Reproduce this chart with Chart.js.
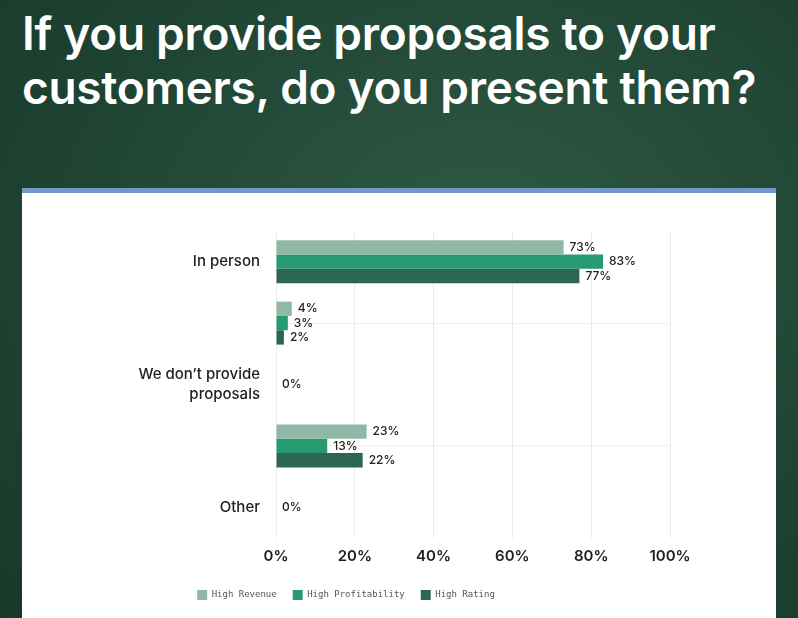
<!DOCTYPE html>
<html>
<head>
<meta charset="utf-8">
<script src="https://cdn.jsdelivr.net/npm/chart.js@4"></script>
<style>
  body { margin: 0; width: 798px; height: 618px; overflow: hidden;
    background: radial-gradient(ellipse at 60% 40%, #2f5a45 0%, #1f4433 60%, #17392a 100%);
    font-family: Inter, "Noto Sans", sans-serif; position: relative; }
  h1 { position: absolute; left: 22px; top: 6px; margin: 0; color: #fff;
    font-size: 46px; line-height: 54px; font-weight: 600; letter-spacing: -0.3px; }
  #panel { position: absolute; left: 22px; top: 188px; width: 754px; height: 430px;
    background: #fff; border-top: 5px solid #7198c9; }
  #wrap { position: absolute; left: 0; top: 0; width: 754px; height: 425px; }
</style>
</head>
<body>
<h1>If you provide proposals to your<br>customers, do you present them?</h1>
<div id="panel"><div id="wrap"><canvas id="grafico"></canvas></div></div>
<script>
const categorias = [
  'In person',
  ['Over Zoom/Google', 'Meet/etc.'],
  ['We don\u2019t provide', 'proposals'],
  ['We send proposals', 'without presenting', 'them'],
  'Other'
];
const highRevenue = [73, 4, 0, 23, 0];
const highProfitability = [83, 3, 0, 13, 0];
const highRating = [77, 2, 0, 22, 0];
const ticksX = [0, 20, 40, 60, 80, 100];

const rotulos = {
  id: 'rotulos',
  afterDatasetsDraw(chart) {
    const ctx = chart.ctx;
    ctx.save();
    ctx.font = '500 12px Inter, sans-serif';
    ctx.fillStyle = '#222';
    ctx.textBaseline = 'middle';
    chart.data.datasets.forEach((ds, i) => {
      const meta = chart.getDatasetMeta(i);
      meta.data.forEach((bar, j) => {
        const v = ds.data[j];
        if (v === 0 && i !== 1) return;
        ctx.fillText(v + '%', bar.x + 6, bar.y);
      });
    });
    ctx.restore();
  }
};

new Chart(document.getElementById('grafico').getContext('2d'), {
  type: 'bar',
  data: {
    labels: categorias,
    datasets: [
      { label: 'High Revenue', data: highRevenue, backgroundColor: '#8fb9a5' },
      { label: 'High Profitability', data: highProfitability, backgroundColor: '#279a72' },
      { label: 'High Rating', data: highRating, backgroundColor: '#2c6650' }
    ]
  },
  options: {
    indexAxis: 'y',
    responsive: true,
    maintainAspectRatio: false,
    animation: false,
    layout: { padding: { top: 38, right: 106, left: 0, bottom: 8 } },
    datasets: { bar: { categoryPercentage: 0.7, barPercentage: 1 } },
    scales: {
      x: {
        min: 0, max: 100,
        afterBuildTicks(scale) { scale.ticks = ticksX.map(v => ({ value: v })); },
        ticks: { callback: v => v + '%', color: '#222', padding: 9,
          font: { family: 'Inter', size: 15, weight: '600' } },
        grid: { color: '#e6ebef', drawTicks: false },
        border: { display: false }
      },
      y: {
        afterFit(scale) { scale.width = 254; },
        ticks: { color: '#222', padding: 16,
          font: { family: 'Inter', size: 15, weight: '500', lineHeight: 1.35 } },
        grid: { color: '#eef1f3', drawTicks: false },
        border: { display: false }
      }
    },
    plugins: {
      legend: {
        position: 'bottom',
        labels: { boxWidth: 10, boxHeight: 10, color: '#555', padding: 16,
          font: { family: 'DejaVu Sans Mono', size: 9 } }
      },
      tooltip: { enabled: false }
    }
  },
  plugins: [rotulos]
});
</script>
</body>
</html>
